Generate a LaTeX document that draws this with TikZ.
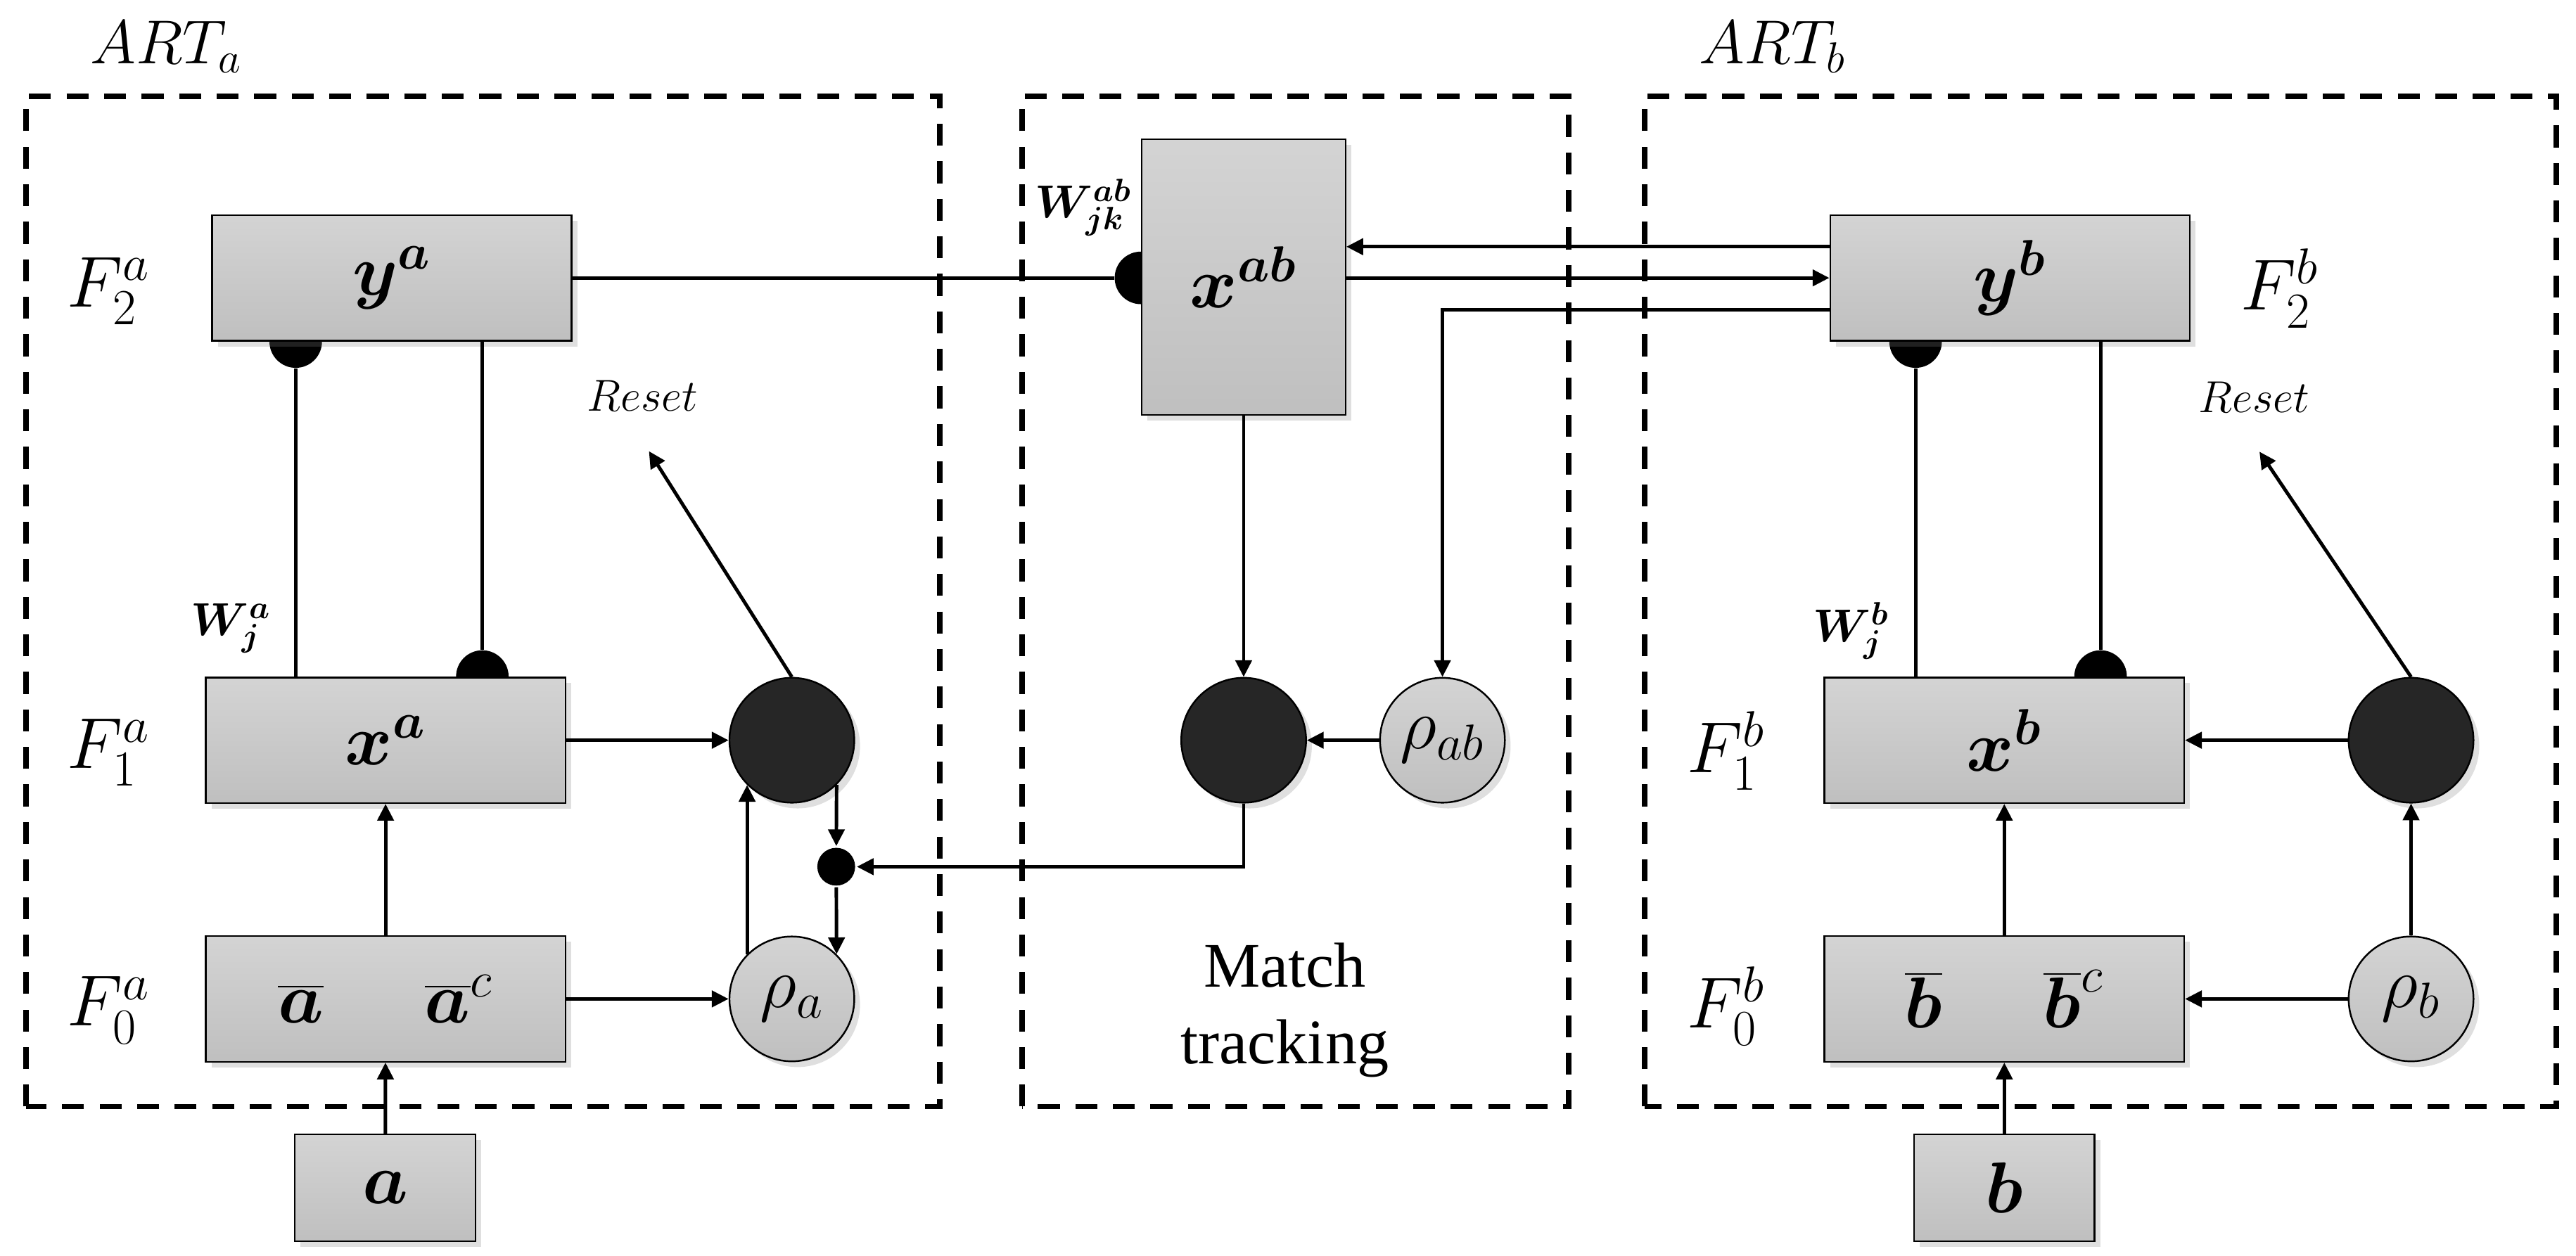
\RequirePackage{fix-cm}
\documentclass[tikz,border=0pt]{standalone}
\usepackage{bm}
\usepackage{fontspec}
\newfontfamily\timesfont{Liberation Serif}
\usetikzlibrary{arrows.meta,shadows,backgrounds}
\begin{document}
\begin{tikzpicture}[
    x=0.02cm, y=0.02cm, line width=1.2pt,
    field/.style={draw, line width=0.6pt, top color=black!17, bottom color=black!25,
                  drop shadow={shadow xshift=2pt, shadow yshift=-2pt, opacity=0.25},
                  minimum width=4.38cm, minimum height=1.53cm, inner sep=0pt,
                  font=\fontsize{25}{30}\selectfont},
    gate/.style={circle, draw, line width=0.6pt, fill=black!85, minimum size=1.52cm,
                 drop shadow={shadow xshift=2pt, shadow yshift=-2pt, opacity=0.25}},
    vigil/.style={circle, draw, line width=0.6pt, top color=black!17, bottom color=black!25,
                  minimum size=1.52cm, inner sep=0pt, font=\fontsize{25}{30}\selectfont,
                  drop shadow={shadow xshift=2pt, shadow yshift=-2pt, opacity=0.25}},
    module/.style={line width=1.9pt, dash pattern=on 7.6pt off 5.4pt},
    feed/.style={-{Triangle[length=5.8pt,width=5.6pt]}},
    tag/.style={inner sep=0pt, font=\fontsize{25}{30}\selectfont},
    small/.style={inner sep=0pt, font=\fontsize{16}{19}\selectfont},
    inhib/.style={circle, fill, minimum size=0.64cm, inner sep=0pt}
  ]
  \useasboundingbox (0,0) rectangle (1568,764.7);

  % dashed modules
  \draw[module] (16,91) rectangle (572,706);
  \draw[module] (622,91) rectangle (955,706);
  \draw[module] (1001,91) rectangle (1556,706);
  \node[anchor=base west, inner sep=0pt, font=\fontsize{21.5}{25}\selectfont] (arta) at (54,726) {$ART_a$};
  \node[anchor=base west, inner sep=0pt, font=\fontsize{21.5}{25}\selectfont] (artb) at (1033,726) {$ART_b$};

  % ART a
  \node[field] (ya) at (238.5,595.5) {$\bm{y}^{\bm{a}}$};
  \node[field] (xa) at (234.7,314) {$\bm{x}^{\bm{a}}$};
  \node[field] (fa) at (234.7,156.5) {$\overline{\bm{a}}\hspace{1.4em}\overline{\bm{a}}^{c}$};
  \node[field, minimum width=2.2cm, minimum height=1.3cm] (ina) at (234.5,41.5) {$\bm{a}$};
  \node[gate] (ra) at (482,314) {};
  \node[vigil] (rhoa) at (482,156.5) {$\rho_a$};
  \node[circle, fill, minimum size=0.46cm, inner sep=0pt] (dot) at (509,237) {};
  \node[tag, anchor=base west] (f2a) at (40,578) {$F_2^a$};
  \node[tag, anchor=base west] (f1a) at (40,297) {$F_1^a$};
  \node[tag, anchor=base west] (f0a) at (40,140) {$F_0^a$};
  \node[small, anchor=base east] (wa-label) at (166,378) {$\bm{W}_{\bm{j}}^{\bm{a}}$};
  \node[anchor=base, inner sep=0pt, font=\fontsize{15.5}{18}\selectfont] (reseta) at (391,514.3) {$Reset$};

  % map field
  \node[field, minimum width=2.48cm, minimum height=3.36cm] (xab) at (757,596) {$\bm{x}^{\bm{ab}}$};
  \node[gate] (rm) at (757,314) {};
  \node[vigil] (rhoab) at (878,314) {$\rho_{ab}$};
  \node[small, anchor=base east] (wab-label) at (690,632) {$\bm{W}_{\bm{jk}}^{\bm{ab}}$};
  \node[anchor=north, inner sep=0pt, align=center, font=\timesfont\fontsize{22}{26.4}\selectfont] (track) at (782,191.5) {Match\\tracking};

  % ART b
  \node[field] (yb) at (1223.5,595.5) {$\bm{y}^{\bm{b}}$};
  \node[field] (xb) at (1220,314) {$\bm{x}^{\bm{b}}$};
  \node[field] (fb) at (1220,156.5) {$\overline{\bm{b}}\hspace{1.4em}\overline{\bm{b}}^{c}$};
  \node[field, minimum width=2.2cm, minimum height=1.3cm] (inb) at (1220,41.5) {$\bm{b}$};
  \node[gate] (rb) at (1467.6,314) {};
  \node[vigil] (rhob) at (1467.6,156.5) {$\rho_b$};
  \node[tag, anchor=base west] (f2b) at (1363,576) {$F_2^b$};
  \node[tag, anchor=base west] (f1b) at (1026,294.4) {$F_1^b$};
  \node[tag, anchor=base west] (f0b) at (1026,139) {$F_0^b$};
  \node[small, anchor=base east] (wb-label) at (1151,374) {$\bm{W}_{\bm{j}}^{\bm{b}}$};
  \node[anchor=base, inner sep=0pt, font=\fontsize{15.5}{18}\selectfont] (resetb) at (1372,513.6) {$Reset$};

  \coordinate (wa) at (180,0);
  \coordinate (wc) at (293.6,0);
  \coordinate (wb) at (1166,0);
  \coordinate (wd) at (1278.6,0);
  \coordinate (rsa) at (395,490);
  \coordinate (rsb) at (1375.3,489.7);

  % half dots behind the fields
  \begin{scope}[on background layer]
    \node[inhib] (h1) at (ya.south -| wa) {};
    \node[inhib] (h2) at (xa.north -| wc) {};
    \node[inhib] (h3) at (xab.west |- ya.east) {};
    \node[inhib] (h4) at (yb.south -| wb) {};
    \node[inhib] (h5) at (xb.north -| wd) {};
  \end{scope}

  % connections ART a
  \draw (h1) -- (h1 |- xa.north);
  \draw (ya.south -| h2) -- (h2);
  \draw (ya.east) -- (h3);
  \draw[feed] (xa) -- (ra);
  \draw[feed] (fa) -- (rhoa);
  \draw[feed] (ina) -- (fa);
  \draw[feed] (fa) -- (xa);
  \draw[feed] (rhoa.135) -- (ra.225);
  \draw[feed] (ra.315) -- (dot);
  \draw[feed] (dot) -- (rhoa.45);
  \draw[feed] (ra.north) -- (rsa);

  % connections map field
  \draw[feed] (xab) -- (rm);
  \draw[feed] (rhoab) -- (rm);
  \draw[feed] (rm.south) |- (dot.east);
  \draw[feed] ([yshift=0.38cm]yb.west) -- ([yshift=0.38cm]yb.west -| xab.east);
  \draw[feed] (xab.east |- yb.west) -- (yb.west);
  \draw[feed] ([yshift=-0.39cm]yb.west) -| (rhoab.north);

  % connections ART b
  \draw (h4) -- (h4 |- xb.north);
  \draw (yb.south -| h5) -- (h5);
  \draw[feed] (rb) -- (xb);
  \draw[feed] (rhob) -- (fb);
  \draw[feed] (rhob) -- (rb);
  \draw[feed] (fb) -- (xb);
  \draw[feed] (inb) -- (fb);
  \draw[feed] (rb.north) -- (rsb);
\end{tikzpicture}
\end{document}
